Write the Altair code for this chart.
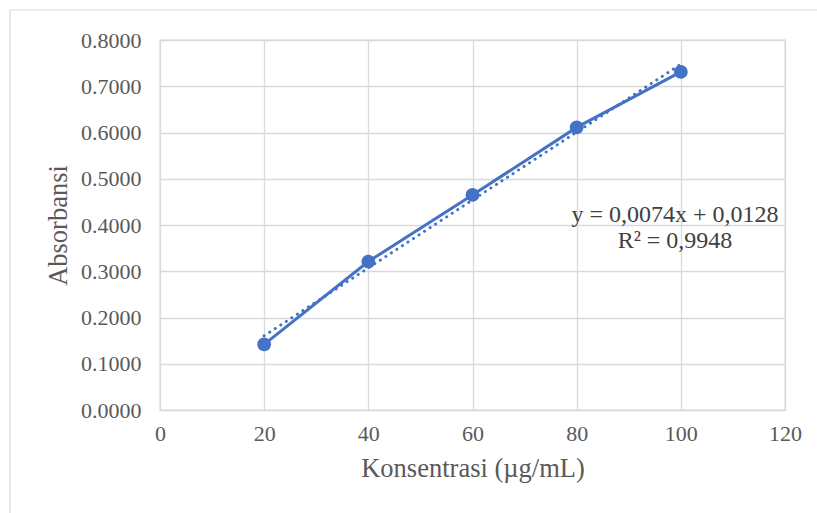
import altair as alt
import pandas as pd

konsentrasi = [20, 40, 60, 80, 100]
absorbansi = [0.142, 0.321, 0.465, 0.611, 0.731]
equation_lines = ["y = 0,0074x + 0,0128", "R² = 0,9948"]

df = pd.DataFrame({"Konsentrasi": konsentrasi, "Absorbansi": absorbansi})

BLUE = "#4472C4"
FONT = "Liberation Serif"

x_enc = alt.X("Konsentrasi:Q",
              scale=alt.Scale(domain=[0, 120], nice=False, zero=True),
              axis=alt.Axis(values=[0, 20, 40, 60, 80, 100, 120],
                            title="Konsentrasi (µg/mL)", titlePadding=11))
y_enc = alt.Y("Absorbansi:Q",
              scale=alt.Scale(domain=[0, 0.8], nice=False),
              axis=alt.Axis(values=[0, 0.1, 0.2, 0.3, 0.4, 0.5, 0.6, 0.7, 0.8],
                            format=".4f", title="Absorbansi", titlePadding=8))

base = alt.Chart(df)

frame = alt.Chart(pd.DataFrame({"a": [0]})).mark_rect(
    fill=None, stroke="#d9d9d9", strokeWidth=1.2, clip=False
).encode(x=alt.value(-150), x2=alt.value(900), y=alt.value(-30), y2=alt.value(600))

trend = base.transform_regression(
    "Konsentrasi", "Absorbansi", extent=[20, 100]
).mark_line(color=BLUE, strokeWidth=3, strokeDash=[0.1, 6.5], strokeCap="round").encode(
    x=x_enc, y=y_enc)

line = base.mark_line(color=BLUE, strokeWidth=3).encode(x=x_enc, y=y_enc)
points = base.mark_circle(color=BLUE, size=190, opacity=1).encode(x=x_enc, y=y_enc)

label = alt.Chart(pd.DataFrame({"t": [equation_lines]})).mark_text(
    font=FONT, fontSize=24, color="#404040", align="center", baseline="middle",
    lineHeight=26
).encode(text="t:N", x=alt.value(515), y=alt.value(175))

chart = alt.layer(frame, trend, line, points, label).properties(
    width=625, height=370,
    autosize=alt.AutoSizeParams(type="none"),
    padding={"left": 160, "top": 40, "right": 32, "bottom": 103},
).configure_view(
    stroke="#d9d9d9", strokeWidth=1.3
).configure_axis(
    gridColor="#d9d9d9", gridWidth=1.3, domain=False, ticks=False, labelFlush=False,
    labelFont=FONT, labelFontSize=22, labelColor="#595959", labelPadding=19,
    titleFont=FONT, titleFontSize=26.5, titleColor="#595959", titleFontWeight="normal"
).configure_axisX(labelPadding=13)

chart.save("out.html", embed_options={"renderer": "svg", "actions": False})
